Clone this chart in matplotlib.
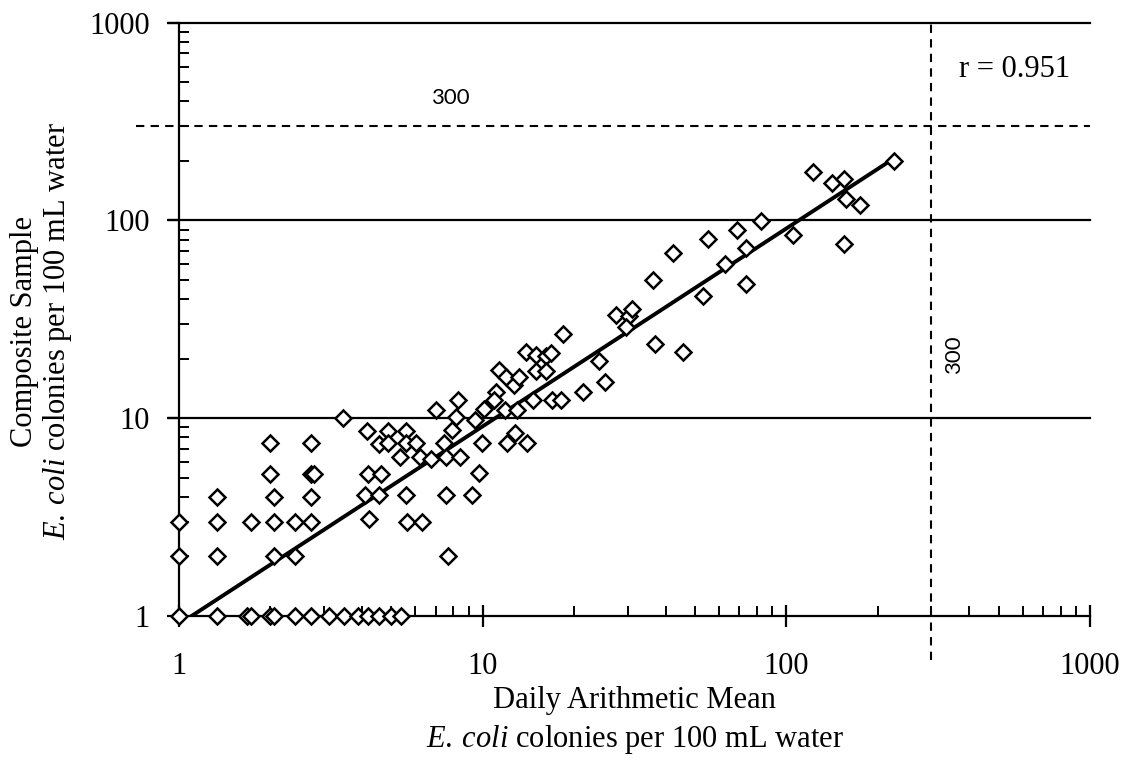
import matplotlib
matplotlib.use('Agg')
import matplotlib.pyplot as plt
from matplotlib.ticker import LogLocator, NullFormatter, FixedLocator, FixedFormatter

# daily arithmetic mean (x) vs composite sample (y)
mean_x = [1.0, 1.33, 1.67, 1.72, 2.0, 2.05, 2.41, 2.73, 3.13, 3.5, 3.88, 4.19, 4.57, 5.0, 5.39,
          1.0, 1.0, 1.33, 1.33, 1.33, 1.72, 2.0, 2.0, 2.05, 2.05, 2.05, 2.41, 2.41,
          2.73, 2.73, 2.73, 2.73, 2.78, 3.46,
          4.15, 4.87, 5.6, 4.55, 4.87, 5.6, 6.04, 5.35, 6.22, 6.77, 7.0, 7.48, 7.55,
          4.19, 4.63, 4.11, 4.57, 5.6, 7.55, 4.22, 5.63, 6.32, 7.68,
          7.93, 8.18, 8.28, 8.39, 9.23, 9.46, 9.95, 9.76, 10.1, 11.08, 10.9, 11.35,
          11.9, 12.7, 13.2, 11.8, 13.0, 12.0, 12.8, 13.95, 13.9, 15.0, 16.2, 16.8,
          15.0, 16.2, 14.6, 16.9, 18.1, 18.4, 21.4, 24.2, 25.3, 27.4, 30.3, 31.0,
          29.6, 37.0, 45.6, 36.3, 42.2, 53.0, 55.1, 62.9, 69.0, 73.5, 73.5, 82.4,
          105, 122, 141, 155, 157, 175, 155, 226]
composite_y = [1, 1, 1, 1, 1, 1, 1, 1, 1, 1, 1, 1, 1, 1, 1,
               2, 3, 2, 3, 4, 3, 7.5, 5.2, 4, 3, 2, 3, 2,
               7.5, 5.2, 4, 3, 5.2, 10,
               8.6, 8.6, 8.6, 7.4, 7.5, 7.5, 7.5, 6.4, 6.4, 6.2, 11, 7.5, 6.4,
               5.2, 5.2, 4.1, 4.1, 4.1, 4.1, 3.1, 3.0, 3.0, 2.0,
               8.7, 10.1, 12.3, 6.4, 4.1, 9.85, 7.5, 5.26, 11.2, 13.6, 12.3, 17.5,
               16.1, 14.7, 16.2, 11, 11, 7.5, 8.4, 7.5, 21.6, 20.8, 20.6, 21.3,
               17.4, 17.4, 12.3, 12.3, 12.3, 26.6, 13.6, 19.5, 15.2, 33.1, 33.0, 35.8,
               28.9, 23.8, 21.6, 49.8, 68.7, 41.3, 80.8, 60.4, 89, 72.8, 47.5, 99,
               84, 175, 154, 162, 129, 120, 75.6, 200]

# regression line end points
fit_x = [1.1, 226]
fit_y = [1.0, 206]

limit = 300
r_value = 0.951
ticks = [1, 10, 100, 1000]
tick_labels = ['1', '10', '100', '1000']

plt.rcParams['font.family'] = ['Liberation Serif', 'DejaVu Serif']
plt.rcParams['mathtext.fontset'] = 'custom'
plt.rcParams['mathtext.rm'] = 'Liberation Serif'
plt.rcParams['mathtext.it'] = 'Liberation Serif:italic'

fig = plt.figure(figsize=(11.35, 7.62), dpi=100)
ax = fig.add_axes([0.1577, 0.1916, 0.8027, 0.7786])

ax.set_xscale('log')
ax.set_yscale('log')
ax.set_xlim(1, 1000)
ax.set_ylim(1, 1000)

# grid lines at decades (extend out a little left like major ticks)
for v in [10, 100, 1000]:
    ax.plot([0.93, 1000], [v, v], color='black', lw=1.6, clip_on=False, zorder=1)

# 300 limit lines
ax.plot([0.72, 1000], [limit, limit], color='black', lw=1.5, ls=(0, (4, 3)), clip_on=False, zorder=1)
ax.plot([limit, limit], [0.6, 1000], color='black', lw=1.5, ls=(0, (4, 3)), clip_on=False, zorder=1)

ax.plot(fit_x, fit_y, color='black', lw=2.8, zorder=2)
ax.plot(mean_x, composite_y, ls='none', marker='D', ms=8, mfc='white', mec='black',
        mew=1.8, clip_on=False, zorder=3)

for s in ['top', 'right']:
    ax.spines[s].set_visible(False)
for s in ['left', 'bottom']:
    ax.spines[s].set_linewidth(1.6)

ax.xaxis.set_major_locator(FixedLocator(ticks))
ax.xaxis.set_major_formatter(FixedFormatter(tick_labels))
ax.yaxis.set_major_locator(FixedLocator(ticks))
ax.yaxis.set_major_formatter(FixedFormatter(tick_labels))
ax.xaxis.set_minor_locator(LogLocator(base=10, subs=range(2, 10)))
ax.yaxis.set_minor_locator(LogLocator(base=10, subs=range(2, 10)))
ax.xaxis.set_minor_formatter(NullFormatter())
ax.yaxis.set_minor_formatter(NullFormatter())

ax.tick_params(axis='x', which='major', direction='inout', length=16, width=1.6, pad=18, labelsize=22)
ax.tick_params(axis='x', which='minor', direction='in', length=7, width=1.4)
ax.tick_params(axis='y', which='major', direction='out', length=9, width=1.6, pad=12, labelsize=22)
ax.tick_params(axis='y', which='minor', direction='in', length=7, width=1.4)

ax.text(0.978, 0.921, 'r = %.3f' % r_value, transform=ax.transAxes, ha='right', va='center', fontsize=22)
ax.text(7.8, 418, '300', ha='center', va='center', fontsize=16, family=['Lato', 'DejaVu Sans'])
ax.text(357, 21, '300', ha='center', va='center', rotation=90, fontsize=16, family=['Lato', 'DejaVu Sans'])

unit = r'$\mathit{E.\:coli}$ colonies per 100 mL water'
fig.text(0.559, 0.081, 'Daily Arithmetic Mean', ha='center', va='center', fontsize=22)
fig.text(0.559, 0.029, unit, ha='center', va='center', fontsize=22)
fig.text(0.022, 0.565, 'Composite Sample', ha='center', va='center', rotation=90, fontsize=22)
fig.text(0.051, 0.565, unit, ha='center', va='center', rotation=90, fontsize=22)

fig.savefig('out.png', dpi=100)
